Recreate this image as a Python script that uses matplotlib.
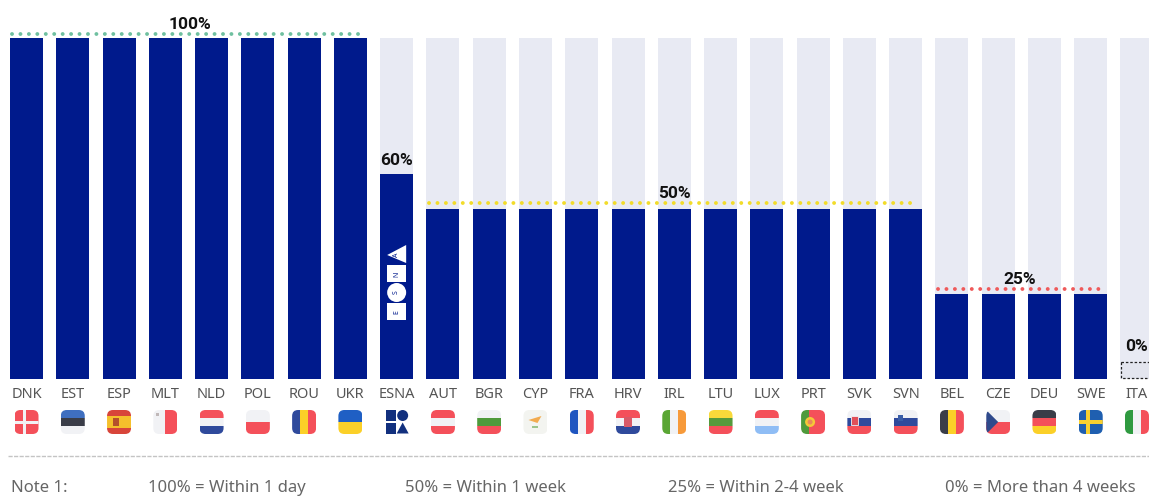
#Response time bars with country flags
import matplotlib
matplotlib.use("Agg")
import matplotlib.pyplot as plt
from matplotlib.patches import FancyBboxPatch, Rectangle, Polygon, Circle

plt.rcParams['font.family'] = ['Noto Sans', 'DejaVu Sans']

codes = ["DNK", "EST", "ESP", "MLT", "NLD", "POL", "ROU", "UKR", "ESNA", "AUT", "BGR", "CYP",
         "FRA", "HRV", "IRL", "LTU", "LUX", "PRT", "SVK", "SVN", "BEL", "CZE", "DEU", "SWE", "ITA"]
values = [100, 100, 100, 100, 100, 100, 100, 100, 60, 50, 50, 50,
          50, 50, 50, 50, 50, 50, 50, 50, 25, 25, 25, 25, 0]
notes = ["Note 1:", "100% = Within 1 day", "50% = Within 1 week", "25% = Within 2-4 week", "0% = More than 4 weeks"]

NAVY = "#001a8c"
TRACK = "#e8eaf3"
RED = "#f4505a"
BLUE = "#2f4a9c"
WHITE = "#f1f2f5"

# flag stripes, h = top to bottom, v = left to right
flags = {
    "DNK": ("h", [RED]),
    "EST": ("h", ["#3f6fc0", "#3a3d48", WHITE]),
    "ESP": ("h", ["#d8453a", "#f5c02c", "#f5c02c", "#d8453a"]),
    "MLT": ("v", [WHITE, RED]),
    "NLD": ("h", [RED, WHITE, BLUE]),
    "POL": ("h", [WHITE, RED]),
    "ROU": ("v", [BLUE, "#fbd028", RED]),
    "UKR": ("h", ["#1f5fc4", "#fbd028"]),
    "AUT": ("h", [RED, WHITE, RED]),
    "BGR": ("h", [WHITE, "#4f9a3c", RED]),
    "CYP": ("h", ["#f3f4f0"]),
    "FRA": ("v", ["#1f55c0", WHITE, RED]),
    "HRV": ("h", [RED, WHITE, BLUE]),
    "IRL": ("v", ["#5aa634", WHITE, "#f79a3a"]),
    "LTU": ("h", ["#f8d93a", "#559a3c", RED]),
    "LUX": ("h", [RED, WHITE, "#8fbdf5"]),
    "PRT": ("v", ["#4f9a3c", RED, RED]),
    "SVK": ("h", [WHITE, BLUE, RED]),
    "SVN": ("h", [WHITE, BLUE, RED]),
    "BEL": ("v", ["#3a3d48", "#fbd028", RED]),
    "CZE": ("h", [WHITE, RED]),
    "DEU": ("h", ["#3a3d48", RED, "#fbd028"]),
    "SWE": ("h", ["#1f5fb0"]),
    "ITA": ("v", ["#2f9a40", WHITE, RED]),
}

# layout in pixels of the 1149x497 picture
W, H = 1149, 497
X0, PITCH, BAR_W = 26.5, 46.27, 33
BASE, PX_PER_PCT = 379, 3.41


def bar_x(i):
    return X0 + PITCH * i


def draw_flag(ax, code, cx):
    x0, y0, size = cx - 12, 410, 24
    clip = FancyBboxPatch((x0 + 4, y0 + 4), size - 8, size - 8, boxstyle="round,pad=4,rounding_size=6",
                          fc="none", ec="none", transform=ax.transData)
    ax.add_patch(clip)
    direction, colours = flags[code]
    n = len(colours)
    shapes = []
    for k, c in enumerate(colours):
        if direction == "h":
            shapes.append(Rectangle((x0, y0 + size * k / n), size, size / n, fc=c, ec="none"))
        else:
            shapes.append(Rectangle((x0 + size * k / n, y0), size / n, size, fc=c, ec="none"))
    # small details on top of the stripes
    if code == "DNK":
        shapes.append(Rectangle((x0 + 8, y0), 3.5, size, fc=WHITE, ec="none"))
        shapes.append(Rectangle((x0, y0 + 10.5), size, 3.5, fc=WHITE, ec="none"))
    if code == "SWE":
        shapes.append(Rectangle((x0 + 7, y0), 4, size, fc="#f8d030", ec="none"))
        shapes.append(Rectangle((x0, y0 + 10), size, 4, fc="#f8d030", ec="none"))
    if code == "ESP":
        shapes.append(Rectangle((x0 + 6, y0 + 8), 6, 8, fc="#b5502c", ec="none"))
    if code == "MLT":
        shapes.append(Rectangle((x0 + 3, y0 + 3), 3, 3, fc="#c0b8b8", ec="none"))
    if code == "CZE":
        shapes.append(Polygon([(x0, y0), (x0 + 12, y0 + 12), (x0, y0 + 24)], fc="#2f4a8c", ec="none"))
    if code == "CYP":
        shapes.append(Polygon([(x0 + 5, y0 + 10), (x0 + 18, y0 + 6), (x0 + 14, y0 + 13)], fc="#f2ab50", ec="none"))
        shapes.append(Rectangle((x0 + 9, y0 + 16), 6, 1.5, fc="#9cc48c", ec="none"))
    if code == "PRT":
        shapes.append(Circle((x0 + 9, y0 + 12), 5, fc="#f5c838", ec="none"))
        shapes.append(Circle((x0 + 9, y0 + 12), 2.5, fc="#e88a5a", ec="none"))
    if code == "HRV":
        shapes.append(Rectangle((x0 + 8, y0 + 7), 8, 10, fc="#d85a68", ec="none"))
    if code == "SVK":
        shapes.append(Rectangle((x0 + 4, y0 + 6), 7, 9, fc="#e0505a", ec=WHITE, lw=0.6))
    if code == "SVN":
        shapes.append(Rectangle((x0 + 4, y0 + 5), 5, 6, fc="#3a5ea8", ec="none"))
    for s in shapes:
        ax.add_patch(s)
        s.set_clip_path(clip)


def draw_esna_flag(ax, cx):
    y0 = 410
    ax.add_patch(Rectangle((cx - 11, y0), 10.5, 11, fc="#12307e", ec="none"))
    ax.add_patch(Circle((cx + 6, y0 + 5.5), 5.5, fc="#12307e", ec="none"))
    ax.add_patch(Rectangle((cx - 11, y0 + 12.5), 10.5, 11, fc="#12307e", ec="none"))
    ax.add_patch(Polygon([(cx, y0 + 23.5), (cx + 12, y0 + 23.5), (cx + 6, y0 + 12.5)], fc="#12307e", ec="none"))


def draw_esna_logo(ax, cx):
    # white shapes stacked up the bar, rotated with the text
    ax.add_patch(Rectangle((cx - 9.5, 303), 19, 17, fc="white", ec="none"))
    ax.add_patch(Circle((cx, 292.5), 9.5, fc="white", ec="none"))
    ax.add_patch(Rectangle((cx - 9.5, 265), 19, 17, fc="white", ec="none"))
    ax.add_patch(Polygon([(cx - 9.5, 255), (cx + 9.5, 245), (cx + 9.5, 263)], fc="white", ec="none"))
    for letter, y in zip("ESNA", [312, 292.5, 274, 255]):
        ax.text(cx, y, letter, rotation=90, ha="center", va="center", fontsize=5, color=NAVY, fontweight="bold")


fig = plt.figure(figsize=(W / 100, H / 100), dpi=100)

# bars live on a value axis, everything else on a pixel overlay
ax = fig.add_axes([0, 0, 1, 1])
ax.set_xlim(-X0 / PITCH, (W - X0) / PITCH)
ax.set_ylim(-(H - BASE) / PX_PER_PCT, BASE / PX_PER_PCT)
ax.axis("off")

positions = list(range(len(codes)))
width = BAR_W / PITCH
ax.bar(positions, [100] * len(codes), width=width, color=TRACK)
ax.bar(positions, values, width=width, color=NAVY)

# dotted level lines and their labels
levels = [(100, "#6fc0a0", 0, 7, 190, 100 + 1.2), (50, "#f2dc2a", 9, 19, 674, 50 + 1.5), (25, "#ef5a5a", 20, 23, 1020, 25 + 1.5)]
label_font = {"family": "Roboto", "fontsize": 12.5, "fontweight": "bold", "color": "#111111"}
for value, colour, first, last, label_px, line_y in levels:
    ax.plot([first - 0.31, last + 0.26], [line_y, line_y], color=colour, lw=2.8,
            ls=(0, (0.01, 2.16)), dash_capstyle="round")
    ax.text((label_px - X0) / PITCH, line_y + 0.6, f"{value}%", ha="center", va="bottom", **label_font)

ax.text(8, 60 + 2, "60%", ha="center", va="bottom", **label_font)
ax.text(24 - 0.02, 7.3, "0%", ha="center", va="bottom", **label_font)

deco = fig.add_axes([0, 0, 1, 1])
deco.set_xlim(0, W)
deco.set_ylim(H, 0)
deco.axis("off")
deco.patch.set_alpha(0)

for i, code in enumerate(codes):
    cx = bar_x(i)
    deco.text(cx, 395, code, ha="center", va="center", fontsize=10.5, color="#555555", fontweight="light")
    if code == "ESNA":
        draw_esna_flag(deco, cx)
        draw_esna_logo(deco, cx)
    else:
        draw_flag(deco, code, cx)

# dashed box for the empty ITA bar
deco.add_patch(Rectangle((bar_x(24) - 16, 362), 40, 16, fc="#e3e5ee", ec="#222222", lw=0.9, ls=(0, (2, 1.5))))

deco.plot([8, W], [456, 456], color="#c4c4c4", lw=1, ls=(0, (3, 1)))

for text, px in zip(notes, [11, 148, 405, 668, 945]):
    deco.text(px, 488, text, ha="left", va="center", fontsize=12, color="#666666", fontweight="light")

fig.savefig("out.png", dpi=100)
